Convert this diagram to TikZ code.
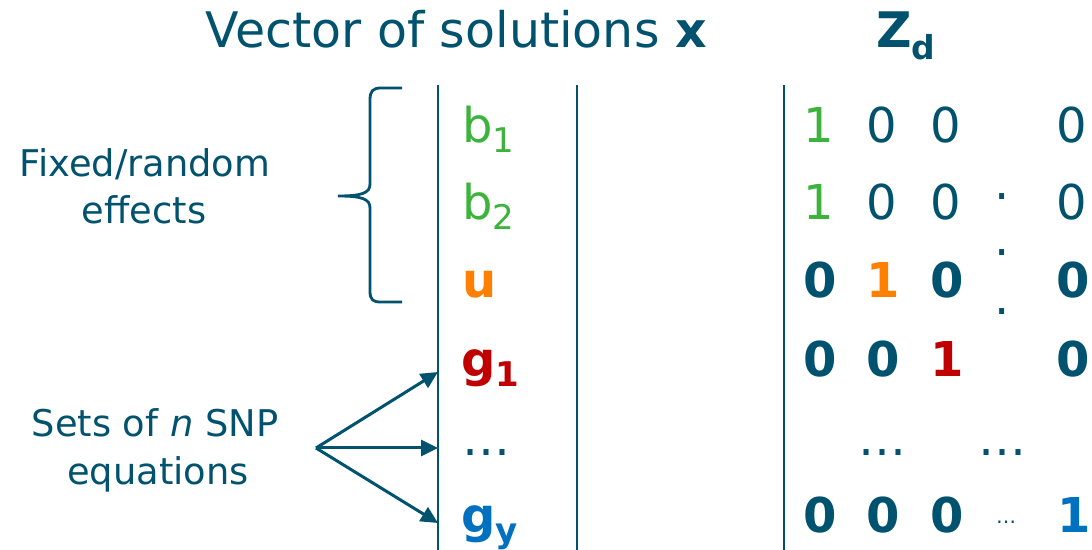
\documentclass[tikz,border=0pt]{standalone}
\usepackage{fontspec}
\setmainfont{DejaVu Sans}
\usepackage{xcolor}
\usepackage{tikz}
\usetikzlibrary{arrows.meta,positioning}

\definecolor{navy}{HTML}{01526F}
\definecolor{fixgreen}{HTML}{3CB43C}
\definecolor{randorange}{HTML}{FF8000}
\definecolor{snpred}{HTML}{C00000}
\definecolor{snpblue}{HTML}{0070C0}
\newcommand{\subtxt}[1]{\raisebox{-5pt}{\fontsize{17}{17}\selectfont #1}}

\begin{document}
\begin{tikzpicture}[x=0.5pt, y=-0.5pt,
    every node/.style={inner sep=0pt, text=navy},
    head/.style={font=\fontsize{24.5}{28}\selectfont, anchor=base west},
    side/.style={font=\fontsize{18.4}{21}\selectfont, anchor=base},
    entry/.style={font=\fontsize{24}{28}\selectfont, anchor=base west},
    cell/.style={font=\fontsize{24}{28}\selectfont, anchor=base},
    rule/.style={draw=navy, line width=1.3pt},
    arr/.style={draw=navy, line width=1.5pt, -{Triangle[length=8.5pt,width=8pt]}}]
  \useasboundingbox (0,0) rectangle (1092,550);

  % headings
  \node[head] (title) at (205,48) {Vector of solutions \textbf{x}};
  \node[head] (zd) at (876,48) {\textbf{Z\raisebox{-6pt}{\fontsize{16.5}{16.5}\selectfont d}}};

  % side labels
  \node[side] (fixA) at (145,177) {Fixed/random};
  \node[side] (fixB) at (144,224) {effects};
  \node[side] (snpA) at (155,437) {Sets of \textit{n} SNP};
  \node[side] (snpB) at (158,484) {equations};

  % column rules
  \draw[rule] (438,85) -- (438,550);
  \draw[rule] (577,85) -- (577,550);
  \draw[rule] (784,85) -- (784,550);

  % brace
  \draw[rule, line width=1.4pt]
    (402,88) -- (381,88) .. controls (373,88) and (370,91) .. (370,100)
    -- (370,184) .. controls (370,193) and (362,196) .. (338,196)
    .. controls (362,196) and (370,199) .. (370,208)
    -- (370,291) .. controls (370,300) and (373,302) .. (381,302) -- (402,302);

  % vector of solutions
  \node[entry, text=fixgreen] (b1) at (462,143) {b\subtxt{1}};
  \node[entry, text=fixgreen] (b2) at (462,220) {b\subtxt{2}};
  \node[entry, text=randorange] (u) at (462,298) {\textbf{u}};
  \node[entry, text=snpred] (g1) at (461,377) {\textbf{g\subtxt{1}}};
  \node[entry] (gdots) at (462,455) {…};
  \node[entry, text=snpblue] (gy) at (461,532) {\textbf{g\subtxt{y}}};

  % arrows to the SNP equations
  \coordinate (fan) at (316,448);
  \coordinate (toA) at (438,372);
  \coordinate (toB) at (438,448);
  \coordinate (toC) at (438,523);
  \draw[arr] (fan) -- (toA);
  \draw[arr] (fan) -- (toB);
  \draw[arr] (fan) -- (toC);

  % design matrix Z_d
  \node[cell, text=fixgreen] (z11) at (819,143) {1};
  \node[cell] (z12) at (882,143) {0};
  \node[cell] (z13) at (946,143) {0};
  \node[cell] (z15) at (1072,143) {0};

  \node[cell, text=fixgreen] (z21) at (819,220) {1};
  \node[cell] (z22) at (882,220) {0};
  \node[cell] (z23) at (946,220) {0};
  \node[cell] (z25) at (1072,220) {0};

  \node[cell] (z31) at (820,298) {\textbf{0}};
  \node[cell, text=randorange] (z32) at (883,298) {\textbf{1}};
  \node[cell] (z33) at (947,298) {\textbf{0}};
  \node[cell] (z35) at (1073,298) {\textbf{0}};

  \node[cell] (z41) at (820,377) {\textbf{0}};
  \node[cell] (z42) at (883,377) {\textbf{0}};
  \node[cell, text=snpred] (z43) at (947,377) {\textbf{1}};
  \node[cell] (z45) at (1073,377) {\textbf{0}};

  \node[cell] (z52) at (882,455) {…};
  \node[cell] (z54) at (1002,455) {…};

  \node[cell] (z61) at (820,532) {\textbf{0}};
  \node[cell] (z62) at (883,532) {\textbf{0}};
  \node[cell] (z63) at (947,532) {\textbf{0}};
  \node[cell, font=\fontsize{10}{12}\selectfont] (z64) at (1006,523) {…};
  \node[cell, text=snpblue] (z65) at (1074,532) {\textbf{1}};

  % vertical dots
  \foreach \y [count=\i] in {197,253,312}
    \node[cell, anchor=center] (vd\i) at (1002,\y) {.};
\end{tikzpicture}
\end{document}
